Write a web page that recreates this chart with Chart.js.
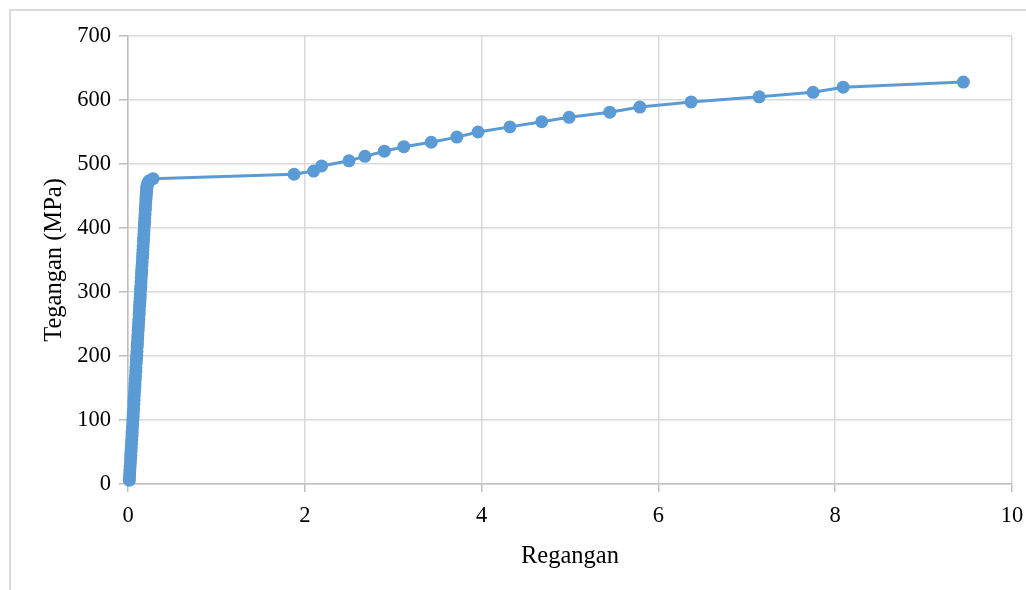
<!DOCTYPE html>
<html>
<head>
<meta charset="utf-8">
<script src="https://cdn.jsdelivr.net/npm/chart.js@4.4.1/dist/chart.umd.min.js"></script>
<style>
  html, body { margin: 0; padding: 0; background: #fff; width: 1026px; height: 590px; overflow: hidden; }
  #frame { position: absolute; left: 9px; top: 9px; width: 1100px; height: 700px; border: 2px solid #d9d9d9; box-sizing: border-box; }
  #c { position: absolute; left: 0; top: 0; }
</style>
</head>
<body>
<div id="frame"></div>
<canvas id="c" width="1026" height="590"></canvas>
<script>
// Strain (Regangan) values
const strain = [
  0.015, 0.017, 0.019, 0.021, 0.024, 0.027, 0.029, 0.032, 0.034, 0.037,
  0.039, 0.042, 0.045, 0.047, 0.050, 0.053, 0.055, 0.058, 0.060, 0.063,
  0.066, 0.068, 0.071, 0.074, 0.077, 0.079, 0.082, 0.085, 0.088, 0.090,
  0.093, 0.096, 0.098, 0.101, 0.104, 0.107, 0.110, 0.112, 0.115, 0.118,
  0.120, 0.123, 0.126, 0.128, 0.131, 0.134, 0.137, 0.139, 0.142, 0.145,
  0.148, 0.150, 0.153, 0.155, 0.158, 0.161, 0.164, 0.167, 0.169, 0.172,
  0.175, 0.177, 0.180, 0.182, 0.185, 0.188, 0.190, 0.193, 0.196, 0.198,
  0.201, 0.203, 0.205, 0.207, 0.210, 0.212, 0.215, 0.219, 0.226, 0.240,
  0.283,
  1.878, 2.10, 2.19, 2.50, 2.68, 2.90, 3.12, 3.43, 3.72, 3.96,
  4.32, 4.68, 4.99, 5.45, 5.79, 6.37, 7.14, 7.75, 8.09, 9.45
];
// Stress (Tegangan, MPa) values
const stress = [
  6, 10, 15, 21, 27, 33, 39, 45, 51, 57,
  63, 69, 75, 81, 88, 94, 100, 106, 112, 118,
  125, 131, 138, 144, 150, 156, 163, 169, 176, 182,
  189, 195, 201, 207, 214, 220, 227, 233, 240, 246,
  252, 258, 265, 271, 278, 284, 290, 296, 303, 309,
  316, 322, 328, 334, 341, 347, 354, 360, 366, 372,
  379, 385, 391, 397, 404, 410, 416, 422, 428, 434,
  440, 445, 450, 454, 458, 462, 465, 468, 471, 474,
  477,
  484, 489, 497, 505, 512, 520, 527, 534, 542, 550,
  558, 566, 573, 581, 589, 597, 605, 612, 620, 628
];
const xTicks = [0, 2, 4, 6, 8, 10];
const yTicks = [0, 100, 200, 300, 400, 500, 600, 700];

const points = strain.map((x, i) => ({ x: x, y: stress[i] }));
const FONT = "'Liberation Serif', 'Times New Roman', serif";
const blue = '#5b9bd5';

new Chart(document.getElementById('c'), {
  type: 'scatter',
  data: {
    datasets: [{
      data: points,
      showLine: true,
      clip: false,
      borderColor: blue,
      backgroundColor: blue,
      borderWidth: 3,
      pointRadius: 6.5,
      pointBorderWidth: 0,
      pointBackgroundColor: blue,
      tension: 0
    }]
  },
  options: {
    responsive: false,
    animation: false,
    layout: { padding: { left: 0, top: 36, right: 14, bottom: 0 } },
    plugins: { legend: { display: false }, tooltip: { enabled: false } },
    scales: {
      x: {
        type: 'linear',
        min: xTicks[0], max: xTicks[xTicks.length - 1],
        afterBuildTicks: s => { s.ticks = xTicks.map(v => ({ value: v })); },
        afterFit: s => { s.height = 106; s.paddingRight = 0; s.paddingLeft = 0; },
        grid: { color: '#d9d9d9', tickColor: '#bfbfbf', tickLength: 8, lineWidth: 1.5 },
        border: { color: '#bfbfbf', width: 1.5 },
        ticks: { color: '#000', font: { family: FONT, size: 22.5 }, padding: 11 },
        title: { display: true, text: 'Regangan', color: '#000', font: { family: FONT, size: 24.5 }, padding: { top: 0, bottom: 19 } }
      },
      y: {
        type: 'linear',
        min: yTicks[0], max: yTicks[yTicks.length - 1],
        afterBuildTicks: s => { s.ticks = yTicks.map(v => ({ value: v })); },
        afterFit: s => { s.width = 128; },
        grid: { color: '#d9d9d9', tickColor: '#bfbfbf', tickLength: 9, lineWidth: 1.5 },
        border: { color: '#bfbfbf', width: 1.5 },
        ticks: { color: '#000', font: { family: FONT, size: 22.5 }, padding: 8 },
        title: { display: true, text: 'Tegangan (MPa)', color: '#000', font: { family: FONT, size: 24.5 }, padding: { top: 40, bottom: 0 } }
      }
    }
  }
});
</script>
</body>
</html>
